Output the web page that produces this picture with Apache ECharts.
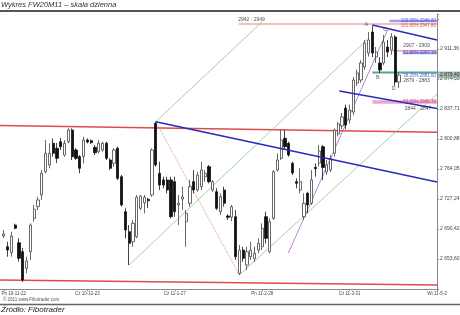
<!DOCTYPE html>
<html><head><meta charset="utf-8">
<script src="https://cdn.jsdelivr.net/npm/echarts@6/dist/echarts.min.js"></script>
<style>html,body{margin:0;padding:0;background:#fff}#c{width:460px;height:315px}</style>
</head><body><div id="c"></div>
<script>
// ---- data ----
const categories = Array.from({length: 116}, (_, i) => String(i)); // bar slots
const tickIndex = [1, 23, 46, 69, 92, 115];
const tickLabels = ['Pn 10-11-22', 'Cz 10-12-23', 'Cz 11-1-27', 'Pn 11-2-28', 'Cz 11-3-31', 'Wt 11-5-3'];
const yTickValues = [2653.60, 2690.42, 2727.24, 2764.05, 2800.88, 2837.71, 2874.53, 2911.36];
const yTickLabels = ['2 653,60', '2 690,42', '2 727,24', '2 764,05', '2 800,88', '2 837,71', '2 874,53', '2 911,36'];
// [open, close, low, high]
const candles = [
 [2681.8,2684.3,2679.4,2689.2],[2668.7,2664.6,2656.4,2674.8],[2661.4,2681.8,2656.4,2687.1],[2695.3,2691.3,2690.0,2697.0],
 [2673.6,2654.4,2650.3,2679.0],[2662.6,2627.8,2625.4,2667.1],[2642.1,2651.1,2636.0,2656.4],[2662.6,2695.3,2652.4,2697.4],
 [2703.5,2714.6,2699.4,2719.9],[2717.8,2726.0,2713.7,2730.1],[2732.2,2758.8,2726.0,2762.8],[2760.8,2783.3,2758.8,2799.6],
 [2768.9,2783.3,2764.9,2795.6],[2795.6,2783.3,2779.2,2801.7],[2789.5,2777.2,2771.4,2796.0],[2797.6,2791.4,2787.4,2802.1],
 [2781.2,2795.6,2779.2,2799.6],[2797.6,2811.9,2795.6,2814.0],[2811.9,2779.2,2775.1,2814.0],[2787.4,2777.2,2775.1,2789.8],
 [2779.2,2764.9,2758.8,2781.2],[2779.2,2799.6,2771.0,2803.7],[2799.6,2797.2,2795.6,2801.7],[2798.8,2796.4,2794.8,2800.5],
 [2790.7,2784.1,2781.2,2793.5],[2785.3,2795.6,2783.3,2799.6],[2787.4,2795.6,2785.3,2797.6],[2795.6,2777.2,2775.1,2797.6],
 [2775.1,2764.9,2762.8,2777.2],[2771.0,2787.4,2766.9,2789.5],[2789.5,2752.6,2750.6,2791.4],[2754.6,2719.9,2717.8,2756.7],
 [2711.7,2689.2,2679.0,2715.8],[2687.1,2672.8,2646.2,2695.3],[2674.8,2697.4,2668.7,2701.5],[2681.0,2729.3,2679.0,2732.2],
 [2715.8,2730.9,2713.7,2732.2],[2722.7,2729.3,2709.7,2732.2],[2726.9,2725.1,2716.2,2728.5],[2732.2,2787.4,2730.1,2789.5],
 [2820.1,2769.0,2766.9,2822.1],[2758.8,2744.4,2738.3,2773.0],[2750.6,2744.4,2740.4,2754.6],[2750.6,2738.3,2734.2,2754.6],
 [2750.6,2705.5,2703.5,2754.6],[2748.5,2711.7,2705.5,2754.6],[2719.9,2721.9,2695.3,2732.2],[2727.3,2729.7,2713.7,2742.4],
 [2699.4,2709.7,2668.7,2713.7],[2722.0,2742.4,2717.8,2750.6],[2748.5,2738.3,2734.2,2762.8],[2738.3,2756.7,2736.2,2760.8],
 [2742.4,2762.8,2738.3,2773.0],[2754.6,2758.8,2748.5,2762.8],[2766.9,2748.5,2746.5,2769.0],[2738.3,2748.5,2736.2,2750.6],
 [2736.2,2715.8,2713.7,2740.4],[2711.7,2730.1,2707.6,2734.2],[2738.3,2722.0,2717.8,2742.4],[2706.4,2704.8,2701.5,2708.4],
 [2705.1,2717.8,2700.0,2720.0],[2705.5,2656.4,2652.4,2713.7],[2636.0,2664.6,2634.0,2670.8],[2664.6,2654.4,2650.3,2668.7],
 [2646.2,2662.6,2640.1,2668.7],[2656.4,2664.6,2652.4,2674.8],[2654.4,2660.6,2650.3,2668.7],[2664.6,2672.8,2660.6,2679.0],
 [2668.7,2691.3,2664.6,2697.4],[2705.5,2679.0,2672.8,2711.7],[2662.6,2699.4,2660.6,2703.5],[2703.5,2760.8,2701.5,2762.8],
 [2762.8,2775.1,2760.8,2783.3],[2777.2,2799.6,2775.1,2811.9],[2801.7,2791.4,2787.4,2811.9],[2795.6,2781.2,2779.2,2797.6],
 [2771.0,2759.2,2756.7,2773.0],[2748.5,2746.5,2740.4,2752.6],[2738.3,2748.5,2734.2,2765.0],[2705.5,2722.0,2701.5,2734.2],
 [2734.2,2719.9,2709.7,2736.2],[2722.0,2750.6,2719.9,2762.8],[2766.1,2764.5,2754.6,2771.0],[2771.4,2786.2,2767.0,2793.5],
 [2791.4,2766.0,2750.6,2793.5],[2760.4,2769.0,2756.7,2775.1],[2763.0,2777.2,2760.4,2781.2],[2783.3,2811.9,2779.2,2814.0],
 [2807.0,2819.3,2804.1,2822.0],[2817.0,2827.9,2813.0,2832.8],[2838.9,2818.1,2813.0,2843.0],[2824.2,2836.5,2820.0,2843.0],
 [2834.0,2873.3,2830.0,2877.0],[2869.6,2881.9,2866.0,2886.0],[2873.3,2894.2,2870.0,2897.8],[2889.2,2918.7,2885.6,2922.4],
 [2906.4,2922.4,2902.0,2932.2],[2932.2,2906.4,2901.5,2940.0],[2901.5,2907.6,2894.2,2913.8],[2894.2,2885.6,2881.9,2901.5],
 [2894.2,2919.9,2891.7,2928.5],[2913.8,2907.6,2901.5,2922.4],[2910.1,2926.1,2904.0,2930.9],[2926.1,2870.8,2866.0,2928.5],
 [2870.8,2879.4,2863.5,2882.5]
];
// trend lines: [barIndex, value]
const redTop    = [[0, 2817.4], [115, 2809.3]];
const redBottom = [[0, 2627.8], [115, 2621.7]];
const blueMain  = [[41, 2822.1], [115, 2748.1]];
const blueLow   = [[89.3, 2859.8], [115, 2838.3]];
const blueTop   = [[98, 2940.8], [115, 2922.4]];
const greenA    = [[34, 2646.2], [96.5, 2922.3]];
const greenB    = [[41, 2822.1], [69, 2944.8]];
const greenC    = [[63, 2634.0], [115, 2856.0]];
const redDotted = [[41, 2822.1], [63, 2634.0]];
const purpleLn  = [[75.9, 2661.0], [102, 2934.7]];
// fibonacci levels
const fibTopBlue = [[102.5, 2945.7], [115, 2945.7]];
const fibTopRed  = [[62.8, 2942.0], [115, 2942.0]];
const fib618Red  = [[103.3, 2909.2], [115, 2909.2]];
const fib618Blue = [[106, 2906.4], [115, 2906.4]];
const fib382     = [[98, 2882.5], [115, 2882.5]];
const fib50      = [[98, 2846.3], [115, 2846.3]];
const zoneTexts  = [['2942 - 2949', 66.2, 2947.2], ['2907 - 2909', 109.6, 2915.0], ['2879 - 2883', 109.6, 2872.1], ['2844 - 2847', 110.0, 2837.6]];
const fibTexts   = [['100.00% 2946.60', 115, 2946.6, '#2a2ad0'], ['161.80% 2947.80', 115, 2940.2, '#d03030'], ['61.80% 2907.36', 115, 2906.2, '#2a2ad0'], ['38.20% 2881.60', 115, 2879.0, '#2a2ad0'], ['50.00% 2845.70', 115, 2846.3, '#c02060']];
const pointNames = [['A', 96.4, 2941.0], ['B', 99.4, 2876.6], ['C', 101.4, 2934.7], ['D', 103.6, 2863.1]];
const lastPrice = [115, 2879.4];
const lastPriceLabel = '2 879,40';

// ---- chart ----
const chart = echarts.init(document.getElementById('c'), null, {renderer: 'canvas', width: 460, height: 315});
const I = 36.855;
const yMin = 71 * I;
const yMax = yMin + 275.07 * 1.22733;
const FF = '"Liberation Sans", Arial, sans-serif';

function seg(data, color, width, type, z) {
  return {type: 'line', xAxisIndex: 1, yAxisIndex: 0, data: data, symbol: 'none', silent: true, animation: false,
    lineStyle: {color: color, width: width, type: type || 'solid'}, z: z || 3};
}
function txt(items, color, pos, size) {
  return {type: 'scatter', xAxisIndex: 1, yAxisIndex: 0, symbolSize: 0, silent: true, animation: false, z: 6,
    data: items.map(t => ({value: [t[1], t[2]], name: t[0], label: {color: t[3] || color}})),
    label: {show: true, position: pos, distance: 1, formatter: p => p.name, fontSize: size, fontFamily: FF, color: color}};
}

const option = {
  animation: false,
  backgroundColor: '#fff',
  title: [
    {text: 'Wykres FW20M11 \u2013 skala dzienna', left: 1, top: 1, padding: 0, textStyle: {fontSize: 7.5, fontStyle: 'italic', fontWeight: 'normal', color: '#333', fontFamily: FF}},
    {text: '\u00a9 2011 www.Fibotrader.com', left: 3, top: 297, padding: 0, textStyle: {fontSize: 4.5, fontWeight: 'normal', color: '#555', fontFamily: FF}},
    {text: '\u0179r\u00f3d\u0142o: Fibotrader', left: 1, top: 306, padding: 0, textStyle: {fontSize: 8, fontStyle: 'italic', fontWeight: 'normal', color: '#222', fontFamily: FF}}
  ],
  graphic: [
    {type: 'line', shape: {x1: 0, y1: 11, x2: 460, y2: 11}, style: {stroke: '#555', lineWidth: 2}},
    {type: 'line', shape: {x1: 0, y1: 304.5, x2: 460, y2: 304.5}, style: {stroke: '#666', lineWidth: 1.5}}
  ],
  grid: {left: 0, right: 23, top: 14, bottom: 315 - 289.07, show: false, containLabel: false, outerBoundsMode: 'none'},
  xAxis: [
    {type: 'category', data: categories, boundaryGap: false,
     axisLine: {onZero: false, lineStyle: {color: '#888', width: 1}},
     axisTick: {interval: (i) => tickIndex.includes(i), length: 2, lineStyle: {color: '#888'}},
     axisLabel: {interval: (i) => tickIndex.includes(i), hideOverlap: false,
       formatter: (v) => { const k = tickIndex.indexOf(Number(v)); if (k < 0) return ''; return k === 0 ? '{f|' + tickLabels[k] + '}' : tickLabels[k]; },
       rich: {f: {fontSize: 4.5, color: '#444', fontFamily: FF, padding: [0, 0, 0, 20]}},
       fontSize: 4.5, color: '#444', margin: 2, fontFamily: FF, showMaxLabel: true, showMinLabel: true},
     splitLine: {show: false}},
    {type: 'value', min: 0, max: 115, show: false}
  ],
  yAxis: {type: 'value', position: 'right', min: yMin, max: yMax, interval: I, scale: true,
    axisLine: {show: true, onZero: false, lineStyle: {color: '#888'}},
    axisTick: {show: true, length: 2, lineStyle: {color: '#888'}},
    splitLine: {show: false},
    axisLabel: {fontSize: 5, color: '#444', margin: 3, fontFamily: FF,
      formatter: (v) => { for (let k = 0; k < yTickValues.length; k++) { if (Math.abs(yTickValues[k] - v) < 1) return yTickLabels[k]; } return ''; }}},
  series: [
    seg(redBottom, '#e04a4a', 1.5),
    seg(redTop, '#e04a4a', 1.5),
    seg(greenA, '#8cc48c', 0.8),
    seg(greenB, '#8cc48c', 0.8),
    seg(greenC, '#8cc48c', 0.8),
    seg(redDotted, '#e07070', 0.8, 'dotted'),
    seg(purpleLn, '#a860c8', 0.8),
    seg(fibTopRed, '#f0a8a8', 1.5),
    seg(fibTopBlue, '#9aa0f0', 2.5),
    seg(fib618Red, '#f0a0a0', 1.5),
    seg(fib618Blue, '#a0a0f0', 2.5),
    seg(fib382, '#50a890', 2),
    seg(fib50, '#e8a8d0', 3.5),
    {type: 'candlestick', xAxisIndex: 0, yAxisIndex: 0, z: 4, animation: false, barWidth: 2.8,
     data: candles.map((c, i) => [i + 1, c[0], c[1], c[2], c[3]]),
     encode: {x: 0, y: [1, 2, 3, 4]},
     itemStyle: {color: '#ffffff', color0: '#111111', borderColor: '#444', borderColor0: '#111', borderWidth: 0.8}},
    seg(blueMain, '#2a2ac0', 1.6, 'solid', 5),
    seg(blueLow, '#2a2ac0', 1.6, 'solid', 5),
    seg(blueTop, '#2a2ac0', 1.6, 'solid', 5),
    txt(zoneTexts, '#222', 'inside', 5),
    txt(fibTexts, '#2a2ad0', 'left', 4.5),
    txt(pointNames, '#333', 'inside', 5.5),
    {type: 'scatter', xAxisIndex: 1, yAxisIndex: 0, symbolSize: 0, silent: true, animation: false, z: 20, clip: false,
     data: [lastPrice],
     label: {show: true, position: 'right', distance: 1, formatter: lastPriceLabel, fontSize: 5, color: '#111', fontFamily: FF,
       backgroundColor: '#8fa89c', padding: [1, 2]}}
  ]
};
chart.setOption(option);
</script>
</body></html>
